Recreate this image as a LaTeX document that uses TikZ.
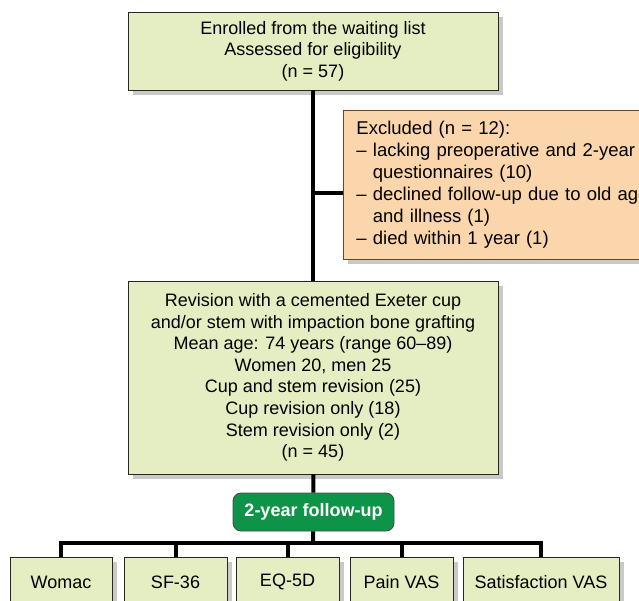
\documentclass[tikz,border=0pt]{standalone}
\usepackage{fontspec}
\setmainfont{Liberation Sans}
\usetikzlibrary{calc}
\usetikzlibrary{shadows}

\definecolor{boxgreen}{RGB}{229,237,194}
\definecolor{boxorange}{RGB}{251,214,172}
\definecolor{fugreen}{RGB}{14,148,72}

\begin{document}
\begin{tikzpicture}[x=1pt,y=-1pt,
    box/.style={draw=black!85,line width=0.9pt,fill=boxgreen,inner sep=0pt,
        drop shadow={shadow xshift=5pt,shadow yshift=-5pt,fill=black!70,opacity=0.3}},
    link/.style={line width=4pt}]
    \fontsize{18}{21.6}\selectfont

    % Fix the frame
    \useasboundingbox (0,0) rectangle (639,601);
    \clip (0,0) rectangle (639,601);

    % Place the nodes
    \node[box,minimum width=370,minimum height=78,align=center] (enrol) at (313,51)
        {Enrolled from the waiting list\\Assessed for eligibility\\(n = 57)};
    \node[box,fill=boxorange,draw=black!45!brown,anchor=north west,text width=300,
        inner xsep=13,minimum height=149,align=left,
        font=\fontsize{18.5}{22}\selectfont] (excl) at (343,110)
        {Excluded (n = 12):\\
         -- lacking preoperative and 2-year\\
         \phantom{-- }questionnaires (10)\\
         -- declined follow-up due to old age\\
         \phantom{-- }and illness (1)\\
         -- died within 1 year (1)};
    \node[box,minimum width=370,minimum height=193,align=center] (rev) at (313,377.5)
        {Revision with a cemented Exeter cup\\
         and/or stem with impaction bone grafting\\
         Mean age: 74 years (range 60--89)\\
         Women 20, men 25\\
         Cup and stem revision (25)\\
         Cup revision only (18)\\
         Stem revision only (2)\\
         (n = 45)};
    \node[draw=black!70,line width=0.9pt,fill=fugreen,rounded corners=8pt,text=white,
        font=\bfseries,minimum width=161,minimum height=38] (fu) at (313.5,512)
        {2-year follow-up};

    % The outcome boxes
    \node[box,minimum width=102,minimum height=50] (womac) at (61,582) {Womac};
    \node[box,minimum width=103,minimum height=50] (sf36)  at (175.5,582) {SF-36};
    \node[box,minimum width=103,minimum height=50] (eq5d)  at (287.5,582) {EQ-5D};
    \node[box,minimum width=103,minimum height=50] (pain)  at (401.5,582) {Pain VAS};
    \node[box,minimum width=156,minimum height=50] (sat)   at (541,582) {Satisfaction VAS};

    % Draw the lines
    \coordinate (split) at (313,193);
    \coordinate (bus) at (313,543);
    \draw[link] (enrol) -- (rev);
    \draw[link] (split) -- (split -| excl.west);
    \draw[link] (rev) -- (fu);
    \draw[link] (fu) -- (bus);
    \draw[link] (womac.north) -- (womac.north |- bus) -- (sat.north |- bus) -- (sat.north);
    \draw[link] (sf36.north |- bus) -- (sf36.north);
    \draw[link] (eq5d.north |- bus) -- (eq5d.north);
    \draw[link] (pain.north |- bus) -- (pain.north);

\end{tikzpicture}
\end{document}
